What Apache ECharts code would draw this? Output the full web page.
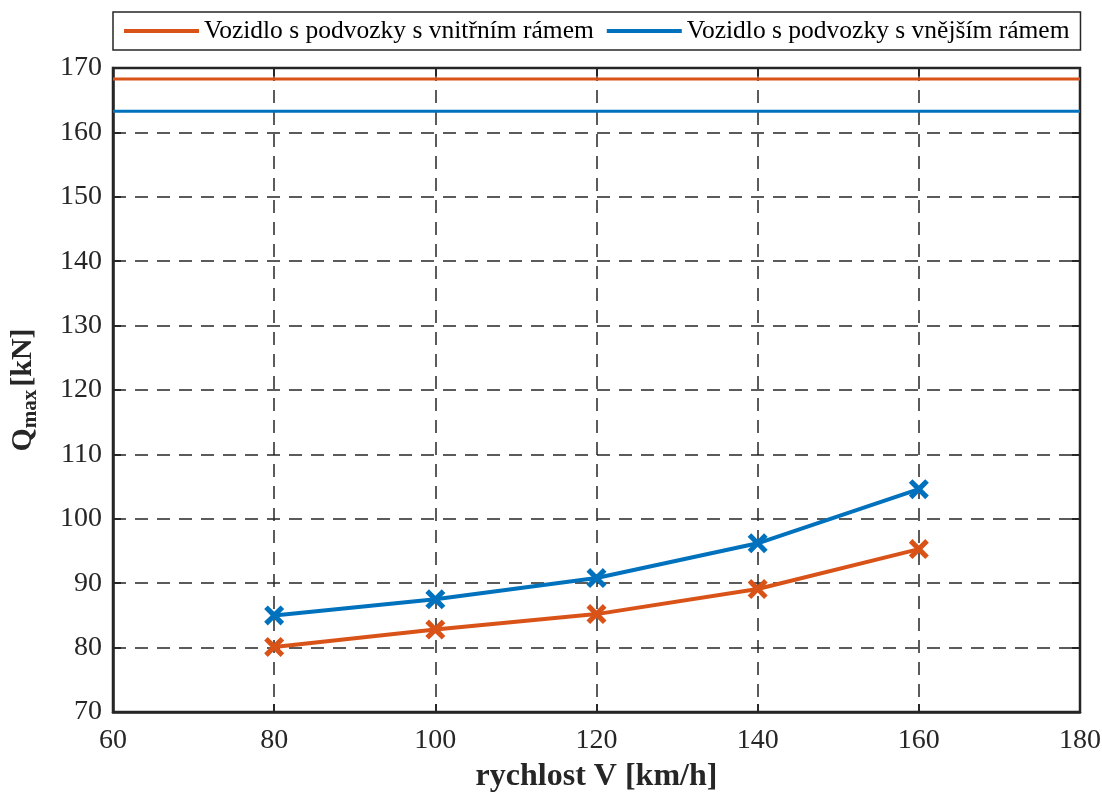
<!DOCTYPE html>
<html>
<head>
<meta charset="utf-8">
<script src="https://cdn.jsdelivr.net/npm/echarts@6/dist/echarts.min.js"></script>
<style>
  html, body { margin: 0; padding: 0; background: #fff; }
  #main { width: 1102px; height: 794px; }
</style>
</head>
<body>
<div id="main"></div>
<script>
// rychlost V [km/h]
var speeds = [80, 100, 120, 140, 160];
// Qmax [kN]
var innerFrame = [80.1, 82.8, 85.2, 89.1, 95.3];
var outerFrame = [85.0, 87.5, 90.8, 96.2, 104.6];
// limitni hodnoty (vodorovne cary)
var innerLimit = 168.3;
var outerLimit = 163.3;
var xRange = [60, 180];
var yRange = [70, 170];

var nameInner = 'Vozidlo s podvozky s vnitřním rámem';
var nameOuter = 'Vozidlo s podvozky s vnějším rámem';
var cOrange = '#D95319';
var cBlue = '#0072BD';
var font = 'Liberation Serif';
var xMark = 'path://M1.8,0 L5,3.2 L8.2,0 L10,1.8 L6.8,5 L10,8.2 L8.2,10 L5,6.8 L1.8,10 L0,8.2 L3.2,5 L0,1.8 Z';

function pairs(xs, ys) {
    return xs.map(function (x, i) { return [x, ys[i]]; });
}

var chart = echarts.init(document.getElementById('main'));
chart.setOption({
    backgroundColor: '#fff',
    animation: false,
    textStyle: { fontFamily: font },
    legend: {
        left: 113, top: 12,
        padding: [6, 11],
        borderColor: '#262626', borderWidth: 1.5,
        itemWidth: 75, itemHeight: 4, itemGap: 13,
        icon: 'rect',
        textStyle: { fontFamily: font, fontSize: 25.5, color: '#000' },
        data: [nameInner, nameOuter]
    },
    grid: {
        left: 113, right: 22, top: 68, bottom: 82,
        containLabel: false, outerBoundsMode: 'none',
        show: true, borderColor: '#262626', borderWidth: 2.5
    },
    xAxis: [{
        type: 'value', min: xRange[0], max: xRange[1], interval: 20,
        name: 'rychlost V [km/h]', nameLocation: 'middle', nameGap: 49,
        nameTextStyle: { fontFamily: font, fontSize: 32, fontWeight: 'bold', color: '#262626' },
        axisLine: { lineStyle: { color: '#262626', width: 2.5 } },
        axisTick: { inside: true, length: 8, lineStyle: { color: '#262626', width: 2 } },
        axisLabel: { fontFamily: font, fontSize: 28, color: '#262626', margin: 15 },
        splitLine: { show: true, lineStyle: { color: '#262626', width: 1.5, type: [13, 9] } }
    }, {
        type: 'value', min: xRange[0], max: xRange[1], interval: 20, position: 'top',
        axisLine: { show: false },
        axisTick: { inside: true, length: 8, lineStyle: { color: '#262626', width: 2 } },
        axisLabel: { show: false }, splitLine: { show: false }
    }],
    yAxis: [{
        type: 'value', min: yRange[0], max: yRange[1], interval: 10,
        name: '{b|Q}{s|max}{b|[kN]}', nameLocation: 'middle', nameGap: 72, nameRotate: 90,
        nameTextStyle: {
            rich: {
                b: { fontFamily: font, fontSize: 30, fontWeight: 'bold', color: '#262626' },
                s: { fontFamily: font, fontSize: 21, fontWeight: 'bold', color: '#262626', verticalAlign: 'bottom', padding: [14, 3, 0, 0] }
            }
        },
        axisLine: { lineStyle: { color: '#262626', width: 2.5 } },
        axisTick: { inside: true, length: 8, lineStyle: { color: '#262626', width: 2 } },
        axisLabel: { fontFamily: font, fontSize: 28, color: '#262626', margin: 11 },
        splitLine: { show: true, lineStyle: { color: '#262626', width: 1.5, type: [13, 9] } }
    }, {
        type: 'value', min: yRange[0], max: yRange[1], interval: 10, position: 'right',
        axisLine: { show: false },
        axisTick: { inside: true, length: 8, lineStyle: { color: '#262626', width: 2 } },
        axisLabel: { show: false }, splitLine: { show: false }
    }],
    series: [{
        name: nameInner, type: 'line',
        data: [[xRange[0], innerLimit], [xRange[1], innerLimit]],
        showSymbol: false, lineStyle: { color: cOrange, width: 3 }, itemStyle: { color: cOrange }, z: 3
    }, {
        name: nameOuter, type: 'line',
        data: [[xRange[0], outerLimit], [xRange[1], outerLimit]],
        showSymbol: false, lineStyle: { color: cBlue, width: 3 }, itemStyle: { color: cBlue }, z: 3
    }, {
        name: nameInner, type: 'line', data: pairs(speeds, innerFrame),
        symbol: xMark, symbolSize: 20,
        lineStyle: { color: cOrange, width: 4 }, itemStyle: { color: cOrange }, z: 4
    }, {
        name: nameOuter, type: 'line', data: pairs(speeds, outerFrame),
        symbol: xMark, symbolSize: 20,
        lineStyle: { color: cBlue, width: 4 }, itemStyle: { color: cBlue }, z: 4
    }]
});
</script>
</body>
</html>
